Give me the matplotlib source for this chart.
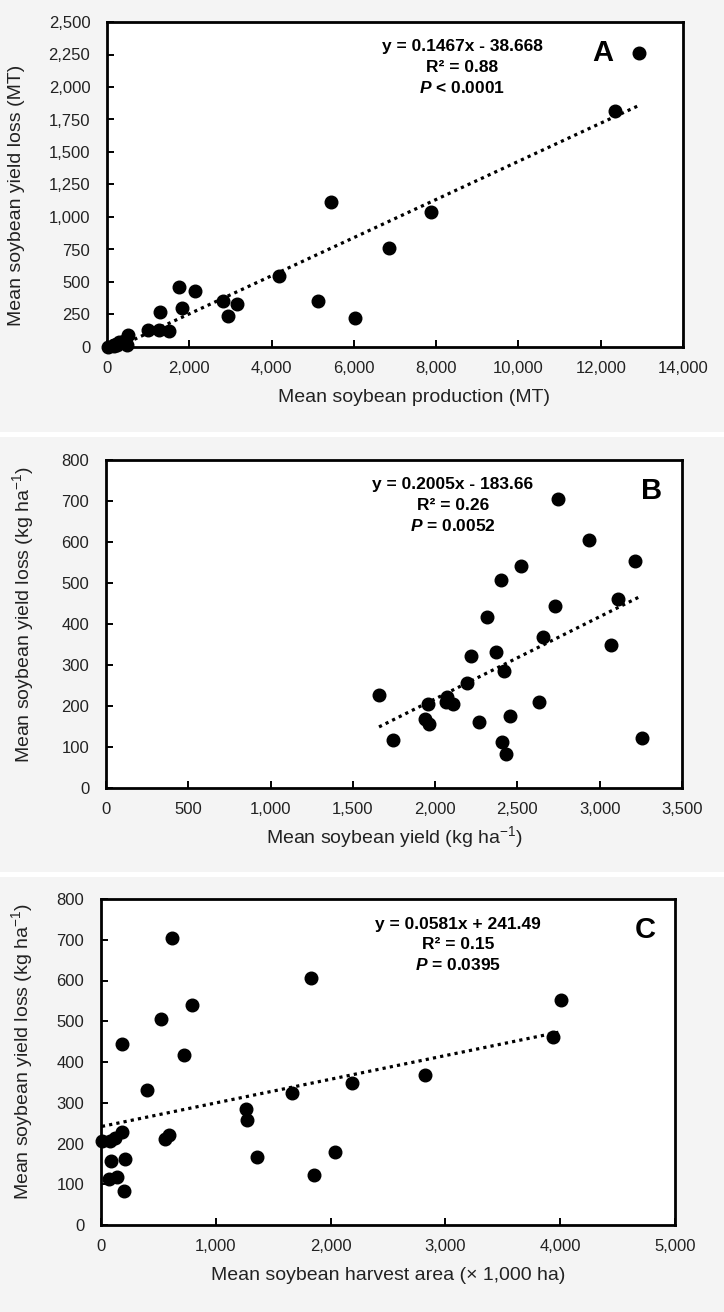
import matplotlib
matplotlib.use("Agg")
import matplotlib.pyplot as plt
from matplotlib.patches import Rectangle
from matplotlib.ticker import FuncFormatter, MultipleLocator
import numpy as np

plt.rcParams['font.family'] = ['Liberation Sans', 'DejaVu Sans']
plt.rcParams['mathtext.fontset'] = 'custom'
plt.rcParams['mathtext.it'] = 'Liberation Sans:italic:bold'
plt.rcParams['mathtext.rm'] = 'Liberation Sans'

# ---------------- data ----------------
# Panel A: production (MT) vs yield loss (MT)
prod_x = [12935, 12351, 5452, 7887, 6866, 4184, 5138, 6024, 1761, 2131, 2827, 1817,
          3152, 2950, 1279, 998, 1256, 1503, 505, 482, 16, 160, 250, 167, 173, 239, 300, 410]
prod_loss = [2263, 1816, 1115, 1038, 765, 543, 357, 222, 459, 431, 357, 301,
             329, 237, 268, 133, 133, 120, 89, 13, 2, 16, 26, 13, 8, 16, 41, 46]

# Panel B: yield (kg/ha) vs yield loss (kg/ha)
yield_x = [2747, 2932, 3213, 2519, 2398, 3112, 2730, 2317, 2657, 3070, 2370, 2218, 2418, 2196,
           1659, 2072, 2066, 2106, 1954, 2634, 1937, 1962, 2266, 2454, 1746, 2407, 2429, 3256]
yield_loss = [705, 606, 553, 541, 507, 462, 444, 417, 368, 349, 331, 323, 285, 257,
              227, 223, 210, 205, 205, 210, 169, 155, 162, 176, 117, 113, 83, 122]

# Panel C: harvest area (x1000 ha) vs yield loss (kg/ha)
area_x = [616, 1832, 4006, 797, 519, 3937, 181, 725, 2826, 2190, 403, 1667, 1260, 1276,
          181, 596, 556, 8, 80, 121, 85, 213, 1357, 2037, 72, 137, 1856, 197]
area_loss = [705, 606, 553, 541, 506, 462, 444, 417, 367, 349, 332, 323, 285, 258,
             227, 222, 210, 205, 205, 213, 156, 162, 168, 178, 114, 118, 122, 83]

fits = {
    'A': (0.1467, -38.668),
    'B': (0.2005, -183.66),
    'C': (0.0581, 241.49),
}
eq_text = {
    'A': ["y = 0.1467x - 38.668", "R\u00b2 = 0.88", r"$P$ < 0.0001"],
    'B': ["y = 0.2005x - 183.66", "R\u00b2 = 0.26", r"$P$ = 0.0052"],
    'C': ["y = 0.0581x + 241.49", "R\u00b2 = 0.15", r"$P$ = 0.0395"],
}

W, H = 724, 1312
fig = plt.figure(figsize=(W / 100, H / 100), dpi=100)
fig.patch.set_facecolor('white')


def fx(x):
    return x / W


def fy(y):
    return 1 - y / H


# gray panel backgrounds
for top, bot in [(0, 432), (437, 872), (877, 1312)]:
    fig.patches.append(Rectangle((0, fy(bot)), 1, (bot - top) / H,
                                 transform=fig.transFigure, facecolor='#f4f4f4',
                                 edgecolor='none', zorder=-10))

comma = FuncFormatter(lambda v, p: f"{int(v):,}")

panels = [
    dict(key='A', x=prod_x, y=prod_loss, box=(107, 22, 683, 347), xlim=14000, xstep=2000,
         ylim=2500, ystep=250, xlabel="Mean soybean production (MT)",
         ylabel="Mean soybean yield loss (MT)", xl=(414, 398), yl=(17, 195),
         eq=(462, 47), let=(603, 53)),
    dict(key='B', x=yield_x, y=yield_loss, box=(106, 460, 682, 788), xlim=3500, xstep=500,
         ylim=800, ystep=100, xlabel="Mean soybean yield (kg ha$^{-1}$)",
         ylabel="Mean soybean yield loss (kg ha$^{-1}$)", xl=(394, 837), yl=(23, 615),
         eq=(453, 485), let=(652, 491)),
    dict(key='C', x=area_x, y=area_loss, box=(101, 899, 675, 1225), xlim=5000, xstep=1000,
         ylim=800, ystep=100, xlabel="Mean soybean harvest area (\u00d7 1,000 ha)",
         ylabel="Mean soybean yield loss (kg ha$^{-1}$)", xl=(388, 1275), yl=(22, 1052),
         eq=(458, 924), let=(645, 930)),
]

for p in panels:
    l, t, r, b = p['box']
    ax = fig.add_axes([fx(l), fy(b), (r - l) / W, (b - t) / H])
    ax.set_zorder(1)
    ax.set_facecolor('white')
    ax.scatter(p['x'], p['y'], s=82, color='black', zorder=3, clip_on=False)
    slope, icpt = fits[p['key']]
    xs = np.array([min(p['x']), max(p['x'])])
    ax.plot(xs, slope * xs + icpt, color='black', linestyle=(0, (1, 1.3)),
            linewidth=2.3, zorder=2)
    ax.set_xlim(0, p['xlim'])
    ax.set_ylim(0, p['ylim'])
    ax.xaxis.set_major_locator(MultipleLocator(p['xstep']))
    ax.yaxis.set_major_locator(MultipleLocator(p['ystep']))
    ax.xaxis.set_major_formatter(comma)
    ax.yaxis.set_major_formatter(comma)
    ax.tick_params(direction='in', length=5, width=1.4, labelsize=12, pad=10,
                   colors='black', labelcolor='#222222')
    ax.tick_params(axis='y', pad=12)
    for s in ax.spines.values():
        s.set_linewidth(2)
        s.set_color('black')
    fig.text(fx(p['xl'][0]), fy(p['xl'][1]), p['xlabel'], ha='center', va='center',
             fontsize=14, color='#222222', zorder=5)
    fig.text(fx(p['yl'][0]), fy(p['yl'][1]), p['ylabel'], ha='center', va='center',
             fontsize=14, rotation=90, color='#222222', zorder=5)
    ex, ey = p['eq']
    for i, line in enumerate(eq_text[p['key']]):
        fig.text(fx(ex), fy(ey + 20.5 * i), line, ha='center', va='center',
                 fontsize=12.5, fontweight='bold', color='black', zorder=5)
    fig.text(fx(p['let'][0]), fy(p['let'][1]), p['key'], ha='center', va='center',
             fontsize=21, fontweight='bold', color='black', zorder=5)

fig.savefig("out.png", dpi=100, facecolor=fig.get_facecolor())
